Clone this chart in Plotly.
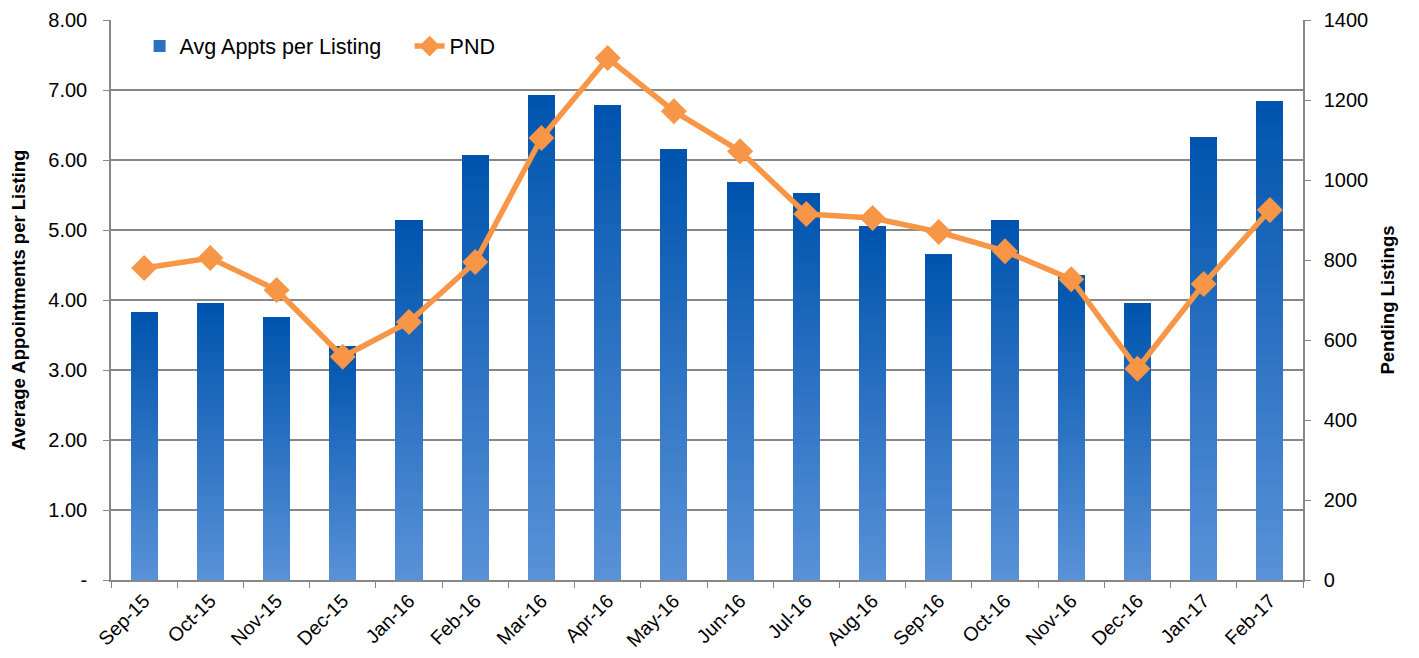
import plotly.graph_objects as go
from plotly.subplots import make_subplots

months = ["Sep-15", "Oct-15", "Nov-15", "Dec-15", "Jan-16", "Feb-16", "Mar-16", "Apr-16",
          "May-16", "Jun-16", "Jul-16", "Aug-16", "Sep-16", "Oct-16", "Nov-16", "Dec-16",
          "Jan-17", "Feb-17"]
avg_appts = [3.83, 3.96, 3.76, 3.34, 5.14, 6.07, 6.93, 6.79, 6.16, 5.69, 5.53, 5.06,
             4.66, 5.14, 4.36, 3.96, 6.33, 6.84]
pnd = [780, 805, 725, 558, 645, 795, 1105, 1305, 1172, 1072, 915, 905, 870, 822, 752,
       528, 740, 925]

left_ticks = [0, 1, 2, 3, 4, 5, 6, 7, 8]
left_ticktext = ["-"] + [f"{v:.2f}" for v in left_ticks[1:]]

FONT = "Liberation Sans, Arial, sans-serif"
bottom_rgb = (88, 145, 215)
top_rgb = (0, 84, 174)
N_SEG = 40

fig = make_subplots(specs=[[{"secondary_y": True}]])

for k in range(N_SEG):
    t = k / (N_SEG - 1)
    c = tuple(round(b + (tp - b) * t) for b, tp in zip(bottom_rgb, top_rgb))
    fig.add_trace(go.Bar(
        x=months, y=[v / N_SEG for v in avg_appts],
        marker=dict(color=f"rgb{c}", line=dict(width=0)),
        name="Avg Appts per Listing",
        showlegend=(k == N_SEG // 2), legendrank=1,
        hoverinfo="skip",
    ), secondary_y=False)

fig.add_trace(go.Scatter(
    x=months, y=pnd, mode="lines+markers", name="PND",
    line=dict(color="#F79646", width=5.5),
    marker=dict(symbol="diamond", size=20, color="#F79646"),
    legendrank=2,
), secondary_y=True)

grid = "#878787"
# page has an 8px body margin, so the figure is offset by (8, 8)
fig.update_layout(
    template="none",
    barmode="stack", bargap=0.59,
    width=1411, height=650,
    margin=dict(l=103, r=116, t=12, b=78, autoexpand=False),
    paper_bgcolor="white", plot_bgcolor="white",
    font=dict(family=FONT, size=20, color="black"),
    legend=dict(orientation="h", x=0.024, y=0.99, xanchor="left", yanchor="top",
                font=dict(size=21.5), bgcolor="rgba(0,0,0,0)", traceorder="normal",
                entrywidth=225, entrywidthmode="pixels"),
    showlegend=True,
)
fig.update_xaxes(
    type="category", tickangle=-45, tickson="boundaries", ticks="outside",
    ticklen=6, tickcolor=grid, showline=True, linecolor=grid, linewidth=1.5,
    showgrid=False, tickfont=dict(size=19.5), range=[-0.5, 17.5], automargin=False,
    domain=[0, 1],
)
fig.update_yaxes(
    range=[0, 8], tickvals=left_ticks, ticktext=left_ticktext,
    showgrid=True, gridcolor=grid, gridwidth=1.5, zeroline=False,
    showline=True, linecolor=grid, linewidth=1.5, ticks="outside", ticklen=6,
    tickcolor=grid, automargin=False, ticklabelstandoff=12,
    title=dict(text="<b>Average Appointments per Listing</b>", font=dict(size=18.5), standoff=18),
    tickfont=dict(size=20),
    secondary_y=False,
)
fig.update_yaxes(
    range=[0, 1400], dtick=200, tick0=0, showgrid=False, zeroline=False,
    showline=True, linecolor=grid, linewidth=1.5, ticks="outside", ticklen=6,
    tickcolor=grid, automargin=False, ticklabelstandoff=9,
    title=dict(text="<b>Pending Listings</b>", font=dict(size=18.5), standoff=14),
    tickfont=dict(size=20),
    secondary_y=True,
)

fig.write_html("out.html")
